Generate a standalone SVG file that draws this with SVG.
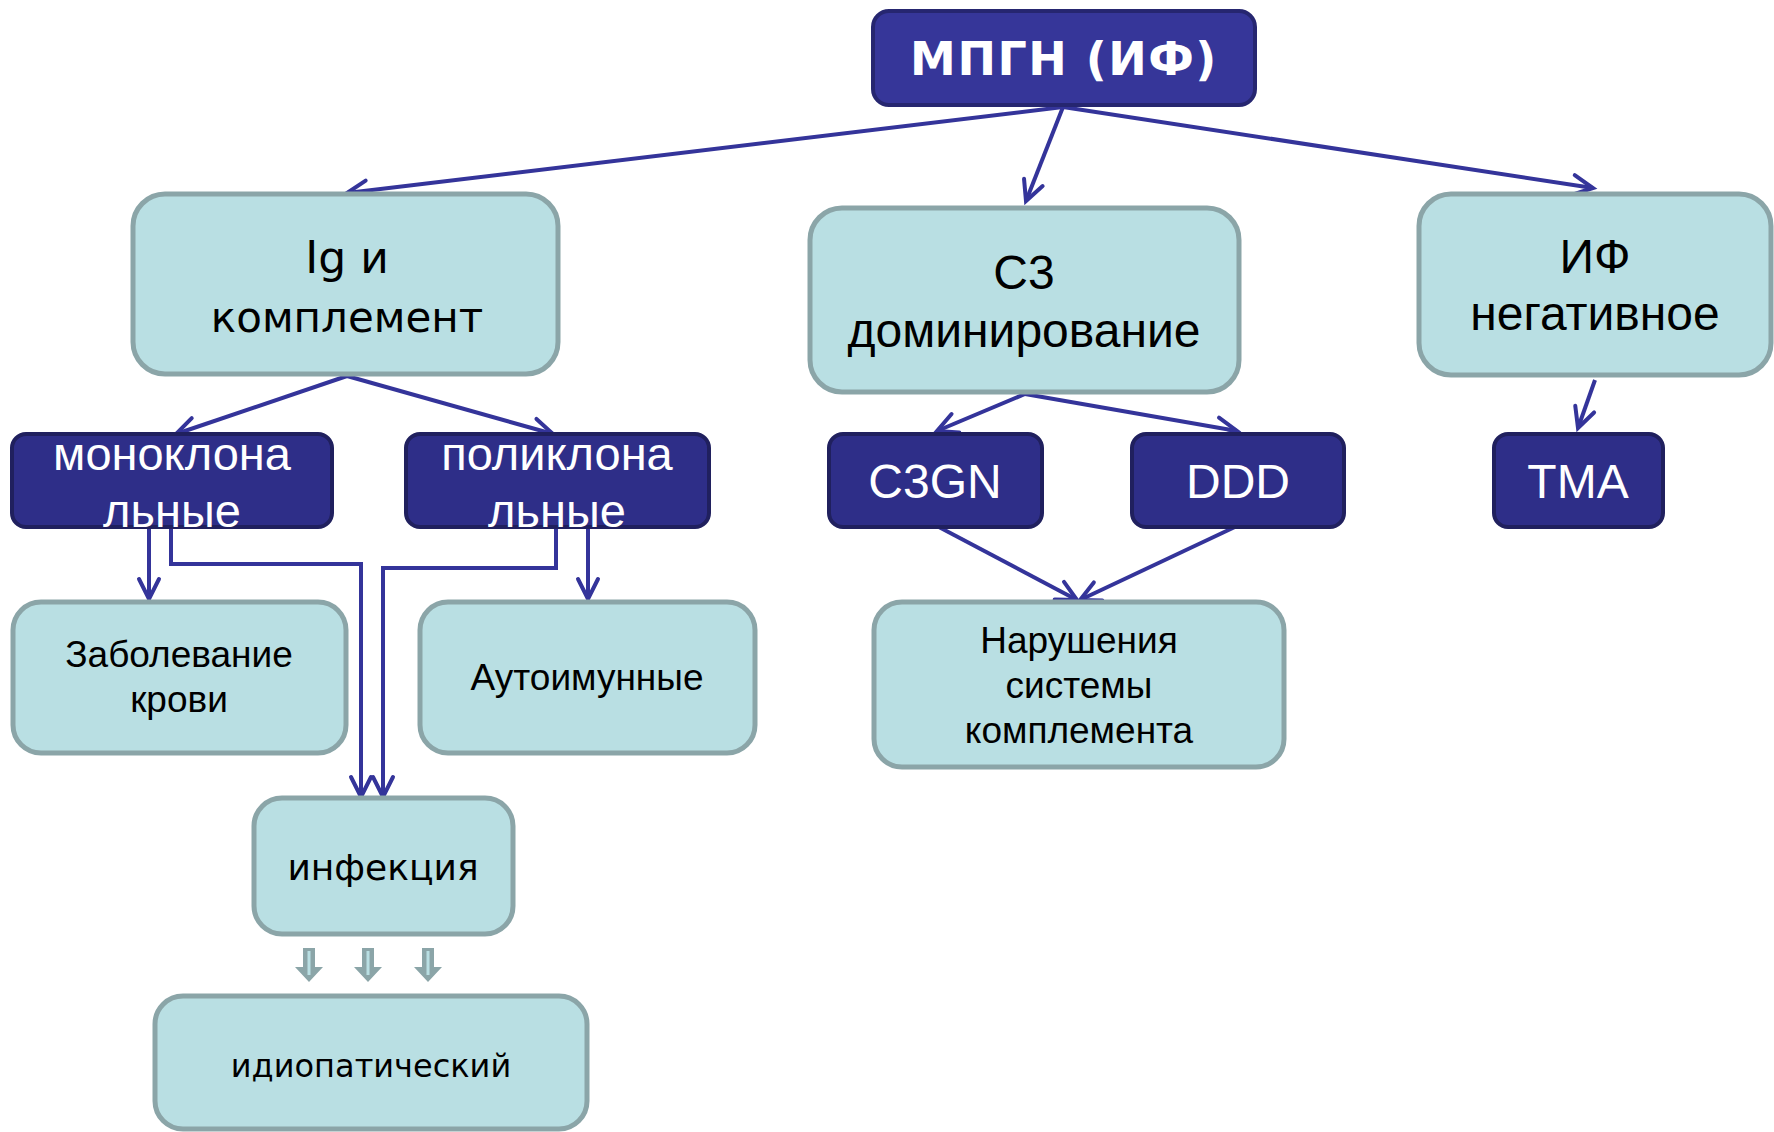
<svg xmlns="http://www.w3.org/2000/svg" width="1774" height="1132" viewBox="0 0 1774 1132">
<defs>
<marker id="ah" markerUnits="userSpaceOnUse" markerWidth="40" markerHeight="40" viewBox="-30 -20 40 40" refX="0" refY="0" orient="auto">
<path d="M-20,-10 L0,0 L-20,10" fill="none" stroke="#34349A" stroke-width="4" stroke-linecap="round" stroke-linejoin="miter"/>
</marker>
<g id="garrow">
<path d="M-6,0 H6 V19 H14 L0,34 L-14,19 H-6 Z" fill="#8BA5A8"/>
<rect x="-1.5" y="3" width="3" height="24" fill="#B9DFE3"/>
</g>
</defs>
<style>
.light{fill:#B9DFE3;stroke:#8BA5A8;stroke-width:5}
.dark{fill:#2E2E88;stroke:#20205E;stroke-width:4}
.top{fill:#363699;stroke:#262670;stroke-width:4}
.conn{fill:none;stroke:#34349A;stroke-width:4;marker-end:url(#ah)}
.tv{font-family:"DejaVu Sans",Verdana,sans-serif;fill:#000;text-anchor:middle}
.ta{font-family:"Liberation Sans",Arial,sans-serif;fill:#000;text-anchor:middle}
.tw{font-family:"Liberation Sans",Arial,sans-serif;fill:#fff;text-anchor:middle}
</style>
<rect width="1774" height="1132" fill="#fff"/>

<g id="connectors">
<path class="conn" d="M1063,107 L347,193"/>
<path class="conn" d="M1063,107 L1026,201"/>
<path class="conn" d="M1063,107 L1593,188"/>
<path class="conn" d="M347,376 L176,434"/>
<path class="conn" d="M347,376 L553,434"/>
<path class="conn" d="M1025,394 L937,431"/>
<path class="conn" d="M1025,394 L1237,431"/>
<path class="conn" d="M1595,380 L1578,428"/>
<path class="conn" d="M149,528 L149,599"/>
<path class="conn" d="M171,528 L171,564 L361,564 L361,797"/>
<path class="conn" d="M556,528 L556,568 L383,568 L383,797"/>
<path class="conn" d="M588,528 L588,599"/>
<path class="conn" d="M937,526 L1077,600"/>
<path class="conn" d="M1237,526 L1080,600"/>
</g>

<g id="n-mpgn">
<rect class="top" x="873" y="11" width="382" height="94" rx="16"/>
<text x="1064" y="75" font-family="'DejaVu Sans',Verdana,sans-serif" font-weight="bold" font-size="46" fill="#fff" text-anchor="middle" letter-spacing="1.5">МПГН (ИФ)</text>
</g>

<g id="n-ig">
<rect class="light" x="133" y="194" width="425" height="180" rx="32"/>
<text class="tv" font-size="44" x="347" y="273">Ig и</text>
<text class="tv" font-size="42" x="347" y="332">комплемент</text>
</g>

<g id="n-c3">
<rect class="light" x="810" y="208" width="429" height="184" rx="32"/>
<text class="ta" font-size="48" x="1024" y="289">C3</text>
<text class="ta" font-size="48" x="1024" y="347">доминирование</text>
</g>

<g id="n-ifneg">
<rect class="light" x="1419" y="194" width="352" height="181" rx="32"/>
<text class="ta" font-size="48" x="1595" y="273">ИФ</text>
<text class="ta" font-size="48" x="1595" y="330">негативное</text>
</g>

<g id="n-mono">
<rect class="dark" x="12" y="434" width="320" height="93" rx="14"/>
<text class="tw" font-size="47" x="172" y="470">моноклона</text>
<text class="tw" font-size="47" x="172" y="527">льные</text>
</g>

<g id="n-poly">
<rect class="dark" x="406" y="434" width="303" height="93" rx="14"/>
<text class="tw" font-size="47" x="557" y="470">поликлона</text>
<text class="tw" font-size="47" x="557" y="527">льные</text>
</g>

<g id="n-c3gn">
<rect class="dark" x="829" y="434" width="213" height="93" rx="14"/>
<text class="tw" font-size="48" x="935" y="498">C3GN</text>
</g>

<g id="n-ddd">
<rect class="dark" x="1132" y="434" width="212" height="93" rx="14"/>
<text class="tw" font-size="48" x="1238" y="498">DDD</text>
</g>

<g id="n-tma">
<rect class="dark" x="1494" y="434" width="169" height="93" rx="14"/>
<text class="tw" font-size="48" x="1578" y="498">TMA</text>
</g>

<g id="n-blood">
<rect class="light" x="13" y="602" width="333" height="151" rx="28"/>
<text class="ta" font-size="37" x="179" y="667">Заболевание</text>
<text class="ta" font-size="37" x="179" y="712">крови</text>
</g>

<g id="n-auto">
<rect class="light" x="420" y="602" width="335" height="151" rx="28"/>
<text class="ta" font-size="37" x="587" y="690">Аутоимунные</text>
</g>

<g id="n-compl">
<rect class="light" x="874" y="602" width="410" height="165" rx="28"/>
<text class="ta" font-size="37" x="1079" y="653">Нарушения</text>
<text class="ta" font-size="37" x="1079" y="698">системы</text>
<text class="ta" font-size="37" x="1079" y="743">комплемента</text>
</g>

<g id="n-inf">
<rect class="light" x="254" y="798" width="259" height="136" rx="28"/>
<text class="tv" font-size="36" x="383" y="880">инфекция</text>
</g>

<g id="gray-arrows">
<use href="#garrow" x="309" y="948"/>
<use href="#garrow" x="368" y="948"/>
<use href="#garrow" x="428" y="948"/>
</g>

<g id="n-idio">
<rect class="light" x="155" y="996" width="432" height="133" rx="28"/>
<text class="tv" font-size="32" x="371" y="1077">идиопатический</text>
</g>
</svg>
